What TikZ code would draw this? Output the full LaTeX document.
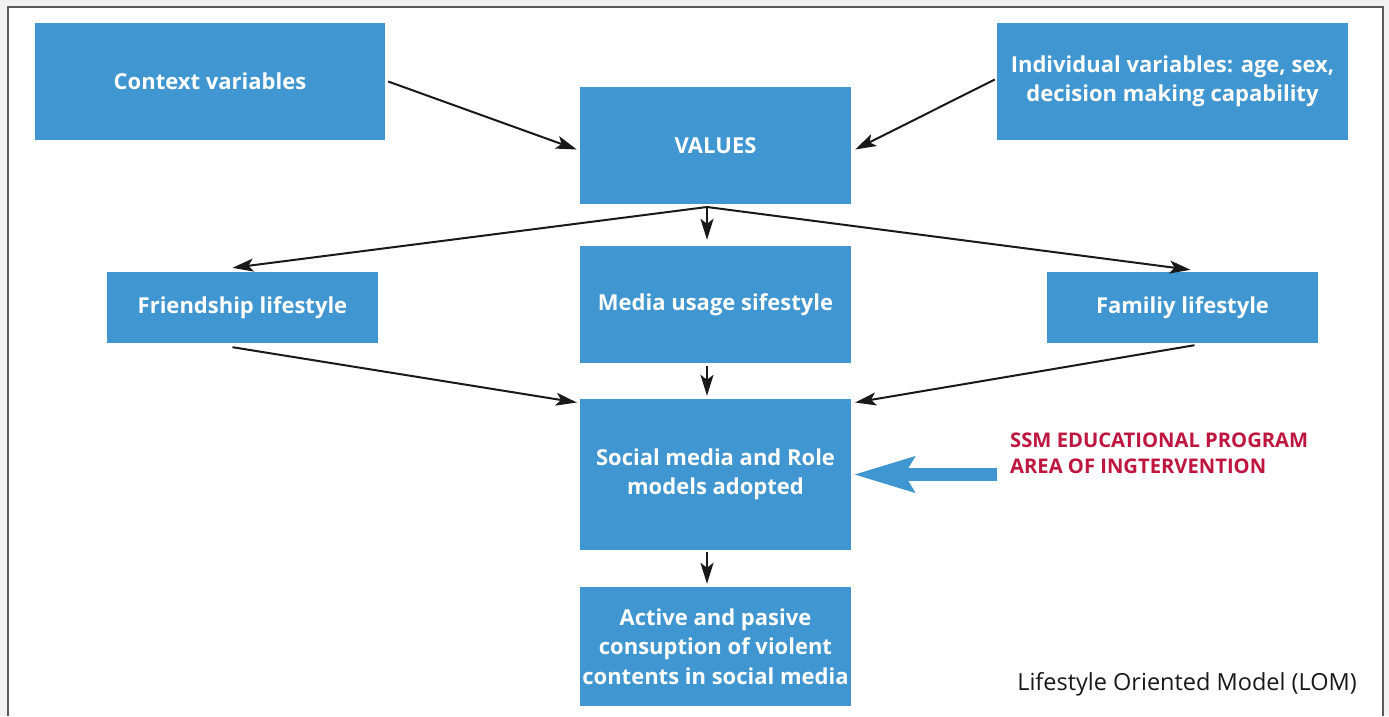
\documentclass[tikz,border=0pt]{standalone}
\usepackage{fontspec}
\setmainfont{Open Sans}
\usetikzlibrary{arrows.meta,calc}
\definecolor{boxblue}{RGB}{64,150,208}
\definecolor{progred}{RGB}{190,22,62}
\definecolor{framegray}{RGB}{90,90,90}
\begin{document}
\begin{tikzpicture}[x=1pt,y=-1pt,
  box/.style={fill=boxblue, text=white, font=\bfseries\fontsize{22}{29.5}\selectfont, align=center, inner sep=0pt},
  arr/.style={-{Stealth[length=21pt,width=13pt,inset=5pt]}, line width=2pt, draw=black!90},
  bigarr/.style={draw=boxblue, line width=13pt, -{Stealth[length=60pt,width=34pt,inset=9pt]}}]
\useasboundingbox (0,0) rectangle (1389,716);
\fill[black!5] (0,0) rectangle (1389,716);
\fill[white] (8,7) rectangle (1383,716);
\draw[framegray, line width=1.2pt] (8,716) -- (8,7) -- (1383,7) -- (1383,716);

\node[box, minimum width=350pt, minimum height=117pt] (ctx) at (210,81.5) {Context variables};
\node[box, minimum width=351pt, minimum height=117pt] (ind) at (1172.5,81.5) {Individual variables: age, sex,\\decision making capability};
\node[box, minimum width=271pt, minimum height=117pt] (val) at (715.5,145.5) {VALUES};
\node[box, minimum width=271pt, minimum height=71pt] (fri) at (242.5,307.5) {Friendship lifestyle};
\node[box, minimum width=271pt, minimum height=117pt] (med) at (715.5,304.5) {Media usage sifestyle};
\node[box, minimum width=271pt, minimum height=71pt] (fam) at (1182.5,307.5) {Familiy lifestyle};
\node[box, minimum width=271pt, minimum height=151pt] (soc) at (715.5,474.5) {Social media and Role\\models adopted};
\node[box, minimum width=271pt, minimum height=119pt] (act) at (715.5,646.5) {Active and pasive\\consuption of violent\\contents in social media};

\node[anchor=west, align=left, inner sep=0pt, text=progred, font=\bfseries\fontsize{20.2}{26}\selectfont] (prog) at (1010,453) {SSM EDUCATIONAL PROGRAM\\AREA OF INGTERVENTION};
\node[anchor=east, inner sep=0pt, font=\fontsize{23.5}{28}\selectfont, text=black!90] (cap) at (1357,684) {Lifestyle Oriented Model (LOM)};

\coordinate (hub) at (707,207);
\draw[arr] ($(ctx.east)+(3,0)$) -- ($(val.west)+(-3,4)$);
\draw[arr] ($(ind.west)+(-2,-2)$) -- ($(val.east)+(4,4)$);
\draw[arr] (hub) -- ($(fri.north)+(-10,-4)$);
\draw[arr] (hub) -- ($(fam.north)+(8,-2)$);
\draw[arr] (hub) -- ($(med.north)+(-8.5,-6)$);
\draw[arr] ($(fri.south)+(-10,4)$) -- ($(soc.west)+(-3,-72)$);
\draw[arr] ($(fam.south)+(12,2)$) -- ($(soc.east)+(4,-72)$);
\draw[arr] ($(med.south)+(-8.5,3)$) -- ($(soc.north)+(-8.5,-3)$);
\draw[arr] ($(soc.south)+(-8.5,2)$) -- ($(act.north)+(-8.5,-3)$);
\draw[bigarr, shorten <=13pt, shorten >=2pt] (prog.west|-soc.east) -- (soc.east);
\end{tikzpicture}
\end{document}
